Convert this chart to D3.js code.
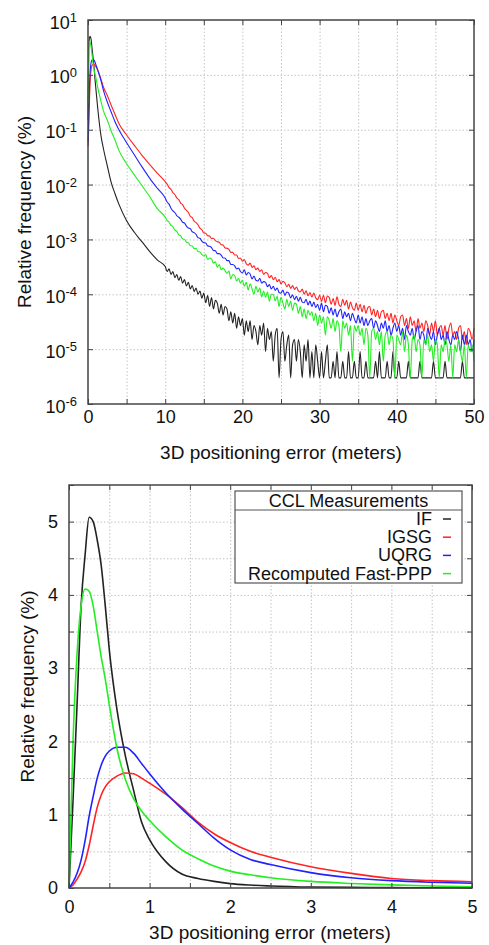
<!DOCTYPE html>
<html>
<head>
<meta charset="utf-8">
<script src="https://cdn.jsdelivr.net/npm/d3@7"></script>
<style>
  body { margin: 0; background: #fff; }
  svg { font-family: "Liberation Sans", Arial, Helvetica, sans-serif; }
  .grid line { stroke: #c4c4c4; stroke-dasharray: 1.5,2; }
  .ticks { color: #444; }
  .ticks text { font-family: "Liberation Sans", Arial, sans-serif; font-size: 18px; fill: #111; }
  .title { font-size: 19px; fill: #111; }
  .legend text { font-size: 18px; fill: #111; }
</style>
</head>
<body>
<svg id="chart" width="489" height="945"></svg>
<script>
const seriesNames = ["IF", "IGSG", "UQRG", "Recomputed Fast-PPP"];
const seriesColors = ["#222222", "#ff2222", "#2222ff", "#22ee22"];

// ---- top chart (log scale), first bins up to 9 m ----
const topHeadX = [0.02, 0.1, 0.2, 0.28, 0.4, 0.5, 0.6, 0.7, 0.8, 0.9, 1.0, 1.2, 1.4, 1.7, 2.0, 2.5, 3.0, 3.5, 4.0, 5.0, 6.0, 7.0, 8.0, 9.0];
const ifHead = [0.15, 3.0, 4.8, 5.05, 4.45, 3.3, 2.45, 1.8, 1.3, 0.85, 0.6, 0.3, 0.16, 0.075, 0.045, 0.022, 0.011, 6.8e-3, 4.4e-3, 2.2e-3, 1.35e-3, 9.0e-4, 6.0e-4, 4.2e-4];
const igsgHead = [0.05, 0.12, 0.38, 0.75, 1.25, 1.45, 1.53, 1.57, 1.56, 1.48, 1.42, 1.27, 1.08, 0.82, 0.6, 0.42, 0.28, 0.19, 0.13, 0.08, 0.052, 0.034, 0.023, 0.016];
const uqrgHead = [0.06, 0.2, 0.7, 1.15, 1.68, 1.85, 1.91, 1.91, 1.84, 1.72, 1.56, 1.3, 1.07, 0.77, 0.52, 0.32, 0.21, 0.14, 0.1, 0.058, 0.035, 0.021, 0.013, 8.5e-3];
const fastHead = [0.3, 2.9, 4.05, 3.95, 3.2, 2.5, 1.85, 1.47, 1.22, 1.04, 0.92, 0.65, 0.48, 0.32, 0.22, 0.15, 0.095, 0.065, 0.042, 0.024, 0.015, 9.5e-3, 6.0e-3, 3.6e-3];

// ---- top chart, 0.25 m bins from 10 m to 50 m ----
const igsgTail = [
  1.13e-2, 1.02e-2, 8.8e-3, 8.2e-3, 7.1e-3, 6.6e-3, 5.7e-3, 5.3e-3, 4.6e-3, 4.3e-3, 3.7e-3, 3.4e-3, 3.1e-3, 2.65e-3, 2.5e-3, 2.15e-3, 2.02e-3, 1.84e-3, 1.6e-3, 1.5e-3,
  1.31e-3, 1.3e-3, 1.17e-3, 1.15e-3, 1.04e-3, 1.05e-3, 9.5e-4, 9.1e-4, 8.9e-4, 8.0e-4, 7.9e-4, 7.0e-4, 6.9e-4, 6.6e-4, 5.8e-4, 5.8e-4, 5.2e-4, 5.2e-4, 4.5e-4, 4.6e-4,
  4.0e-4, 4.3e-4, 3.6e-4, 3.4e-4, 3.7e-4, 3.1e-4, 3.3e-4, 2.8e-4, 3.0e-4, 2.6e-4, 2.8e-4, 2.3e-4, 2.5e-4, 2.4e-4, 2.0e-4, 2.2e-4, 1.85e-4, 2.05e-4, 1.7e-4, 1.85e-4,
  1.55e-4, 1.72e-4, 1.62e-4, 1.38e-4, 1.52e-4, 1.28e-4, 1.45e-4, 1.22e-4, 1.36e-4, 1.15e-4, 1.1e-4, 1.24e-4, 1.0e-4, 1.16e-4, 9.4e-5, 1.08e-4, 8.9e-5, 1.05e-4, 8.6e-5, 8.0e-5,
  9.7e-5, 7.4e-5, 9.6e-5, 7.0e-5, 9.3e-5, 8.7e-5, 6.6e-5, 8.4e-5, 6.3e-5, 9.0e-5, 6.6e-5, 6.0e-5, 8.1e-5, 6.3e-5, 7.8e-5, 5.4e-5, 7.2e-5, 5.7e-5, 5.1e-5, 6.9e-5,
  5.1e-5, 6.6e-5, 4.8e-5, 6.3e-5, 4.5e-5, 5.7e-5, 6.0e-5, 4.2e-5, 5.4e-5, 3.9e-5, 5.1e-5, 3.6e-5, 4.8e-5, 5.1e-5, 3.6e-5, 4.5e-5, 3.3e-5, 4.5e-5, 3.0e-5, 4.2e-5,
  3.3e-5, 2.7e-5, 3.9e-5, 4.2e-5, 2.7e-5, 3.6e-5, 2.4e-5, 3.9e-5, 2.7e-5, 3.3e-5, 2.1e-5, 3.6e-5, 2.4e-5, 3.0e-5, 2.1e-5, 3.3e-5, 2.7e-5, 1.8e-5, 3.0e-5, 2.1e-5,
  3.3e-5, 1.8e-5, 2.4e-5, 2.7e-5, 1.8e-5, 2.7e-5, 1.5e-5, 2.4e-5, 3.0e-5, 1.8e-5, 2.1e-5, 1.5e-5, 2.4e-5, 2.7e-5, 1.5e-5, 2.1e-5, 1.2e-5, 2.4e-5, 2.1e-5, 1.5e-5,
  2.4e-5];
const uqrgTail = [
  5.7e-3, 4.8e-3, 4.4e-3, 3.7e-3, 3.3e-3, 3.1e-3, 2.7e-3, 2.55e-3, 2.35e-3, 2.05e-3, 2.0e-3, 1.75e-3, 1.62e-3, 1.57e-3, 1.38e-3, 1.33e-3, 1.23e-3, 1.08e-3, 1.05e-3, 9.3e-4,
  8.7e-4, 8.6e-4, 7.6e-4, 7.5e-4, 7.1e-4, 6.3e-4, 6.2e-4, 5.5e-4, 5.5e-4, 5.2e-4, 4.6e-4, 4.6e-4, 4.1e-4, 4.1e-4, 3.5e-4, 3.5e-4, 3.3e-4, 2.9e-4, 3.0e-4, 2.6e-4,
  2.45e-4, 2.8e-4, 2.25e-4, 2.5e-4, 2.35e-4, 1.9e-4, 2.15e-4, 1.8e-4, 1.75e-4, 1.95e-4, 1.6e-4, 1.7e-4, 1.65e-4, 1.38e-4, 1.5e-4, 1.25e-4, 1.4e-4, 1.18e-4, 1.3e-4, 1.08e-4,
  1.05e-4, 1.2e-4, 9.5e-5, 1.1e-4, 1.05e-4, 8.6e-5, 9.8e-5, 8.0e-5, 9.2e-5, 7.5e-5, 8.8e-5, 7.2e-5, 7.0e-5, 8.1e-5, 6.4e-5, 7.5e-5, 6.0e-5, 7.2e-5, 5.7e-5, 6.6e-5,
  5.1e-5, 6.9e-5, 4.8e-5, 6.3e-5, 6.0e-5, 4.5e-5, 5.7e-5, 4.2e-5, 5.4e-5, 3.9e-5, 4.8e-5, 5.4e-5, 3.6e-5, 4.8e-5, 3.9e-5, 4.5e-5, 3.3e-5, 4.5e-5, 3.6e-5, 3.0e-5,
  4.2e-5, 3.0e-5, 3.9e-5, 2.7e-5, 3.6e-5, 2.7e-5, 3.3e-5, 3.6e-5, 2.4e-5, 3.3e-5, 2.7e-5, 2.1e-5, 3.0e-5, 2.4e-5, 3.3e-5, 2.1e-5, 2.7e-5, 1.8e-5, 2.4e-5, 3.0e-5,
  2.1e-5, 2.7e-5, 1.8e-5, 2.4e-5, 1.5e-5, 2.7e-5, 2.1e-5, 1.8e-5, 2.4e-5, 1.5e-5, 2.1e-5, 2.7e-5, 1.5e-5, 2.1e-5, 1.8e-5, 1.2e-5, 2.4e-5, 1.8e-5, 1.5e-5, 2.1e-5,
  1.2e-5, 1.8e-5, 2.4e-5, 1.5e-5, 1.8e-5, 1.2e-5, 2.1e-5, 1.5e-5, 1.2e-5, 1.8e-5, 1.5e-5, 2.1e-5, 1.5e-5, 9.0e-6, 1.8e-5, 1.2e-5, 1.8e-5, 1.2e-5, 1.5e-5, 9.0e-6,
  1.5e-5];
const fastTail = [
  2.55e-3, 2.2e-3, 2.08e-3, 1.8e-3, 1.7e-3, 1.48e-3, 1.4e-3, 1.22e-3, 1.17e-3, 1.03e-3, 1.0e-3, 8.9e-4, 8.7e-4, 7.7e-4, 7.6e-4, 6.8e-4, 6.8e-4, 6.0e-4, 5.9e-4, 5.3e-4,
  5.0e-4, 5.3e-4, 4.3e-4, 4.6e-4, 4.4e-4, 3.7e-4, 3.9e-4, 3.1e-4, 3.5e-4, 2.8e-4, 3.0e-4, 2.7e-4, 2.4e-4, 2.65e-4, 1.9e-4, 2.3e-4, 2.2e-4, 1.75e-4, 1.95e-4, 1.6e-4,
  1.8e-4, 1.4e-4, 1.65e-4, 1.2e-4, 1.55e-4, 1.25e-4, 1.0e-4, 1.4e-4, 1.1e-4, 1.3e-4, 9.0e-5, 1.15e-4, 8.8e-5, 1.1e-4, 7.5e-5, 1.0e-4, 1.0e-4, 7.6e-5, 9.2e-5, 6.0e-5,
  8.8e-5, 6.9e-5, 5.4e-5, 8.1e-5, 6.0e-5, 7.5e-5, 5.1e-5, 6.9e-5, 6.6e-5, 4.5e-5, 6.0e-5, 3.9e-5, 5.4e-5, 3.6e-5, 5.1e-5, 4.2e-5, 4.8e-5, 3.3e-5, 4.5e-5, 2.7e-5,
  4.2e-5, 3.0e-5, 3.9e-5, 1.8e-5, 3.9e-5, 3.3e-5, 2.4e-5, 3.6e-5, 2.1e-5, 3.3e-5, 2.7e-5, 9.0e-6, 3.3e-5, 2.4e-5, 3.0e-5, 1.8e-5, 2.7e-5, 6.0e-6, 2.7e-5, 2.1e-5,
  2.7e-5, 1.8e-5, 2.4e-5, 1.2e-5, 2.4e-5, 1.8e-5, 3.0e-6, 2.1e-5, 2.4e-5, 1.5e-5, 2.1e-5, 1.2e-5, 2.1e-5, 6.0e-6, 1.8e-5, 2.1e-5, 1.2e-5, 1.8e-5, 1.5e-5, 3.0e-6,
  1.8e-5, 1.5e-5, 1.2e-5, 2.1e-5, 9.0e-6, 1.8e-5, 1.2e-5, 3.0e-6, 1.5e-5, 1.8e-5, 9.0e-6, 1.5e-5, 1.2e-5, 3.0e-6, 1.5e-5, 1.2e-5, 1.8e-5, 9.0e-6, 1.2e-5, 6.0e-6,
  1.5e-5, 1.2e-5, 3.0e-6, 1.2e-5, 9.0e-6, 1.5e-5, 1.2e-5, 6.0e-6, 1.2e-5, 3.0e-6, 1.2e-5, 9.0e-6, 1.5e-5, 9.0e-6, 6.0e-6, 1.2e-5, 3.0e-6, 1.2e-5, 9.0e-6, 1.2e-5,
  6.0e-6];
const ifTail = [
  3.2e-4, 2.6e-4, 2.9e-4, 2.3e-4, 2.6e-4, 2.0e-4, 2.3e-4, 1.8e-4, 2.1e-4, 1.6e-4, 1.85e-4, 1.42e-4, 1.65e-4, 1.25e-4, 1.45e-4, 1.12e-4, 1.3e-4, 1.0e-4, 1.15e-4, 8.5e-5,
  1.05e-4, 7.0e-5, 9.5e-5, 6.0e-5, 8.7e-5, 5.4e-5, 7.8e-5, 6.9e-5, 4.5e-5, 6.6e-5, 4.2e-5, 6.0e-5, 5.4e-5, 3.3e-5, 4.8e-5, 3.0e-5, 4.5e-5, 2.4e-5, 3.9e-5, 2.7e-5,
  3.6e-5, 1.8e-5, 3.3e-5, 2.1e-5, 3.3e-5, 1.5e-5, 2.7e-5, 2.1e-5, 1.2e-5, 2.7e-5, 1.8e-5, 3.0e-5, 9.0e-6, 2.4e-5, 1.5e-5, 2.1e-5, 6.0e-6, 1.8e-5, 2.4e-5, 3.0e-6,
  1.5e-5, 2.1e-5, 6.0e-6, 1.2e-5, 1.8e-5, 3.0e-6, 1.2e-5, 1.5e-5, 6.0e-6, 1.5e-5, 9.0e-6, 3.0e-6, 1.2e-5, 6.0e-6, 1.5e-5, 3.0e-6, 9.0e-6, 3.0e-6, 1.2e-5, 6.0e-6,
  3.0e-6, 9.0e-6, 3.0e-6, 6.0e-6, 1.2e-5, 3.0e-6, 3.0e-6, 6.0e-6, 3.0e-6, 9.0e-6, 3.0e-6, 3.0e-6, 6.0e-6, 3.0e-6, 3.0e-6, 9.0e-6, 3.0e-6, 3.0e-6, 6.0e-6, 3.0e-6,
  3.0e-6, 9.0e-6, 3.0e-6, 3.0e-6, 6.0e-6, 3.0e-6, 3.0e-6, 3.0e-6, 3.0e-6, 6.0e-6, 3.0e-6, 9.0e-6, 3.0e-6, 3.0e-6, 3.0e-6, 6.0e-6, 3.0e-6, 3.0e-6, 9.0e-6, 3.0e-6,
  3.0e-6, 6.0e-6, 3.0e-6, 3.0e-6, 3.0e-6, 3.0e-6, 6.0e-6, 3.0e-6, 3.0e-6, 3.0e-6, 3.0e-6, 3.0e-6, 6.0e-6, 3.0e-6, 3.0e-6, 3.0e-6, 3.0e-6, 3.0e-6, 3.0e-6, 6.0e-6,
  3.0e-6, 3.0e-6, 3.0e-6, 3.0e-6, 3.0e-6, 6.0e-6, 3.0e-6, 3.0e-6, 3.0e-6, 3.0e-6, 3.0e-6, 3.0e-6, 3.0e-6, 3.0e-6, 6.0e-6, 3.0e-6, 3.0e-6, 3.0e-6, 3.0e-6, 3.0e-6,
  3.0e-6];

const topXTicks = [0, 5, 10, 15, 20, 25, 30, 35, 40, 45, 50];
const topYTicks = [1e-6, 1e-5, 1e-4, 1e-3, 1e-2, 1e-1, 1, 10];
const topYExp = ["-6", "-5", "-4", "-3", "-2", "-1", "0", "1"];

// ---- bottom chart (linear), 0..5 m ----
const botX = [0, 0.05, 0.1, 0.15, 0.2, 0.25, 0.3, 0.35, 0.4, 0.45, 0.5, 0.6, 0.7, 0.8, 0.9, 1.0, 1.2, 1.4, 1.6, 1.8, 2.0, 2.25, 2.5, 3.0, 3.5, 4.0, 4.5, 5.0];
const ifBot = [0, 1.2, 2.5, 3.85, 4.55, 5.06, 5.0, 4.75, 4.4, 3.85, 3.25, 2.4, 1.8, 1.34, 0.9, 0.66, 0.36, 0.19, 0.13, 0.09, 0.06, 0.04, 0.028, 0.013, 0.008, 0.005, 0.003, 0.002];
const igsgBot = [0, 0.04, 0.12, 0.22, 0.36, 0.58, 0.85, 1.1, 1.27, 1.38, 1.45, 1.53, 1.57, 1.56, 1.5, 1.43, 1.28, 1.1, 0.9, 0.74, 0.62, 0.5, 0.42, 0.29, 0.2, 0.13, 0.1, 0.085];
const uqrgBot = [0, 0.08, 0.2, 0.38, 0.65, 0.98, 1.25, 1.5, 1.68, 1.8, 1.87, 1.92, 1.92, 1.84, 1.7, 1.56, 1.3, 1.08, 0.88, 0.68, 0.52, 0.39, 0.32, 0.21, 0.14, 0.1, 0.078, 0.064];
const fastBot = [0, 2.0, 3.2, 3.85, 4.08, 4.05, 3.85, 3.5, 3.15, 2.85, 2.5, 1.88, 1.48, 1.22, 1.05, 0.92, 0.7, 0.52, 0.4, 0.3, 0.23, 0.18, 0.14, 0.09, 0.062, 0.042, 0.028, 0.018];

const botTicks = [0, 0.5, 1, 1.5, 2, 2.5, 3, 3.5, 4, 4.5, 5];
const botYTicks = [0, 0.5, 1, 1.5, 2, 2.5, 3, 3.5, 4, 4.5, 5, 5.5];

const svg = d3.select("#chart");

// ================= top chart =================
const T = {left: 88, top: 20, w: 386, h: 384};
const topX = topHeadX.concat(d3.range(10, 50.001, 0.25));
const xTop = d3.scaleLinear().domain([0, 50]).range([0, T.w]);
const yTop = d3.scaleLog().domain([1e-6, 10]).range([T.h, 0]);

const gT = svg.append("g").attr("transform", "translate(" + T.left + "," + T.top + ")");

gT.append("g").attr("class", "grid")
  .attr("transform", "translate(0," + T.h + ")")
  .call(d3.axisBottom(xTop).tickValues(topXTicks.slice(1, -1)).tickSize(-T.h).tickFormat(""))
  .call(g => g.select(".domain").remove());
gT.append("g").attr("class", "grid")
  .call(d3.axisLeft(yTop).tickValues(topYTicks.slice(1, -1)).tickSize(-T.w).tickFormat(""))
  .call(g => g.select(".domain").remove());

const topSeries = [
  {name: "IF", color: seriesColors[0], values: ifHead.concat(ifTail)},
  {name: "IGSG", color: seriesColors[1], values: igsgHead.concat(igsgTail)},
  {name: "UQRG", color: seriesColors[2], values: uqrgHead.concat(uqrgTail)},
  {name: "Recomputed Fast-PPP", color: seriesColors[3], values: fastHead.concat(fastTail)}
];
const lineTop = d3.line().curve(d3.curveMonotoneX).x((d, i) => xTop(topX[i])).y(d => yTop(d));
gT.append("g").selectAll("path")
  .data(topSeries)
  .enter()
  .append("path")
  .attr("d", d => lineTop(d.values))
  .attr("fill", "none")
  .attr("stroke", d => d.color)
  .attr("stroke-width", 1.1)
  .attr("stroke-linejoin", "round");

gT.append("g").attr("class", "ticks")
  .attr("transform", "translate(0," + T.h + ")")
  .call(d3.axisBottom(xTop).tickValues(topXTicks).tickSize(-5).tickPadding(6)
    .tickFormat(d => d % 10 === 0 ? d : ""))
  .call(g => g.select(".domain").remove());
gT.append("g").attr("class", "ticks")
  .call(d3.axisTop(xTop).tickValues(topXTicks).tickSize(-5).tickFormat(""))
  .call(g => g.select(".domain").remove());
gT.append("g").attr("class", "ticks")
  .attr("transform", "translate(" + T.w + ",0)")
  .call(d3.axisRight(yTop).tickValues(topYTicks).tickSize(-5).tickFormat(""))
  .call(g => g.select(".domain").remove());

const yAxisTop = gT.append("g").attr("class", "ticks")
  .call(d3.axisLeft(yTop).tickValues(topYTicks).tickSize(-5).tickPadding(11).tickFormat(""))
  .call(g => g.select(".domain").remove());
yAxisTop.selectAll(".tick text").each(function(d, i) {
  const t = d3.select(this).attr("dy", "0.45em");
  t.append("tspan").text("10");
  t.append("tspan").attr("dy", "-0.5em").style("font-size", "13px").text(topYExp[i]);
});

gT.append("rect")
  .attr("width", T.w).attr("height", T.h)
  .attr("fill", "none").attr("stroke", "#444").attr("stroke-width", 1.5);

svg.append("text").attr("class", "title")
  .attr("text-anchor", "middle")
  .attr("x", T.left + T.w / 2).attr("y", 459)
  .text("3D positioning error (meters)");
svg.append("text").attr("class", "title")
  .attr("text-anchor", "middle")
  .attr("transform", "translate(31," + (T.top + T.h / 2) + ") rotate(-90)")
  .text("Relative frequency (%)");

// ================= bottom chart =================
const B = {left: 69, top: 485, w: 403, h: 403};
const xBot = d3.scaleLinear().domain([0, 5]).range([0, B.w]);
const yBot = d3.scaleLinear().domain([0, 5.5]).range([B.h, 0]);

const gB = svg.append("g").attr("transform", "translate(" + B.left + "," + B.top + ")");

gB.append("g").attr("class", "grid")
  .attr("transform", "translate(0," + B.h + ")")
  .call(d3.axisBottom(xBot).tickValues(botTicks.slice(1, -1)).tickSize(-B.h).tickFormat(""))
  .call(g => g.select(".domain").remove());
gB.append("g").attr("class", "grid")
  .call(d3.axisLeft(yBot).tickValues(botYTicks.slice(1, -1)).tickSize(-B.w).tickFormat(""))
  .call(g => g.select(".domain").remove());

const botSeries = [
  {name: "IF", color: seriesColors[0], values: ifBot},
  {name: "IGSG", color: seriesColors[1], values: igsgBot},
  {name: "UQRG", color: seriesColors[2], values: uqrgBot},
  {name: "Recomputed Fast-PPP", color: seriesColors[3], values: fastBot}
];
const lineBot = d3.line().curve(d3.curveMonotoneX).x((d, i) => xBot(botX[i])).y(d => yBot(d));
gB.append("g").selectAll("path")
  .data(botSeries)
  .enter()
  .append("path")
  .attr("d", d => lineBot(d.values))
  .attr("fill", "none")
  .attr("stroke", d => d.color)
  .attr("stroke-width", 1.6);

gB.append("g").attr("class", "ticks")
  .attr("transform", "translate(0," + B.h + ")")
  .call(d3.axisBottom(xBot).tickValues(botTicks).tickSize(-5).tickPadding(12)
    .tickFormat(d => Number.isInteger(d) ? d : ""))
  .call(g => g.select(".domain").remove());
gB.append("g").attr("class", "ticks")
  .call(d3.axisTop(xBot).tickValues(botTicks).tickSize(-5).tickFormat(""))
  .call(g => g.select(".domain").remove());
gB.append("g").attr("class", "ticks")
  .call(d3.axisLeft(yBot).tickValues(botYTicks).tickSize(-5).tickPadding(11)
    .tickFormat(d => Number.isInteger(d) ? d : ""))
  .call(g => g.select(".domain").remove());
gB.append("g").attr("class", "ticks")
  .attr("transform", "translate(" + B.w + ",0)")
  .call(d3.axisRight(yBot).tickValues(botYTicks).tickSize(-5).tickFormat(""))
  .call(g => g.select(".domain").remove());

gB.append("rect")
  .attr("width", B.w).attr("height", B.h)
  .attr("fill", "none").attr("stroke", "#444").attr("stroke-width", 1.5);

svg.append("text").attr("class", "title")
  .attr("text-anchor", "middle")
  .attr("x", 270).attr("y", 939)
  .text("3D positioning error (meters)");
svg.append("text").attr("class", "title")
  .attr("text-anchor", "middle")
  .attr("transform", "translate(34," + (B.top + B.h / 2) + ") rotate(-90)")
  .text("Relative frequency (%)");

// legend
const legend = svg.append("g").attr("class", "legend");
legend.append("rect")
  .attr("x", 235).attr("y", 491).attr("width", 227).attr("height", 92)
  .attr("fill", "#fff").attr("stroke", "#555").attr("stroke-width", 1.2);
legend.append("line")
  .attr("x1", 235).attr("x2", 462).attr("y1", 510).attr("y2", 510)
  .attr("stroke", "#555").attr("stroke-width", 1.2);
legend.append("text")
  .attr("x", 348.5).attr("y", 507).attr("text-anchor", "middle")
  .text("CCL Measurements");
const entries = legend.selectAll("g.entry")
  .data(seriesNames)
  .enter()
  .append("g")
  .attr("class", "entry")
  .attr("transform", (d, i) => "translate(0," + (525 + i * 18.2) + ")");
entries.append("text")
  .attr("x", 432).attr("text-anchor", "end")
  .text(d => d);
entries.append("line")
  .attr("x1", 443).attr("x2", 451).attr("y1", -6).attr("y2", -6)
  .attr("stroke", (d, i) => seriesColors[i]).attr("stroke-width", 1.5);
</script>
</body>
</html>
